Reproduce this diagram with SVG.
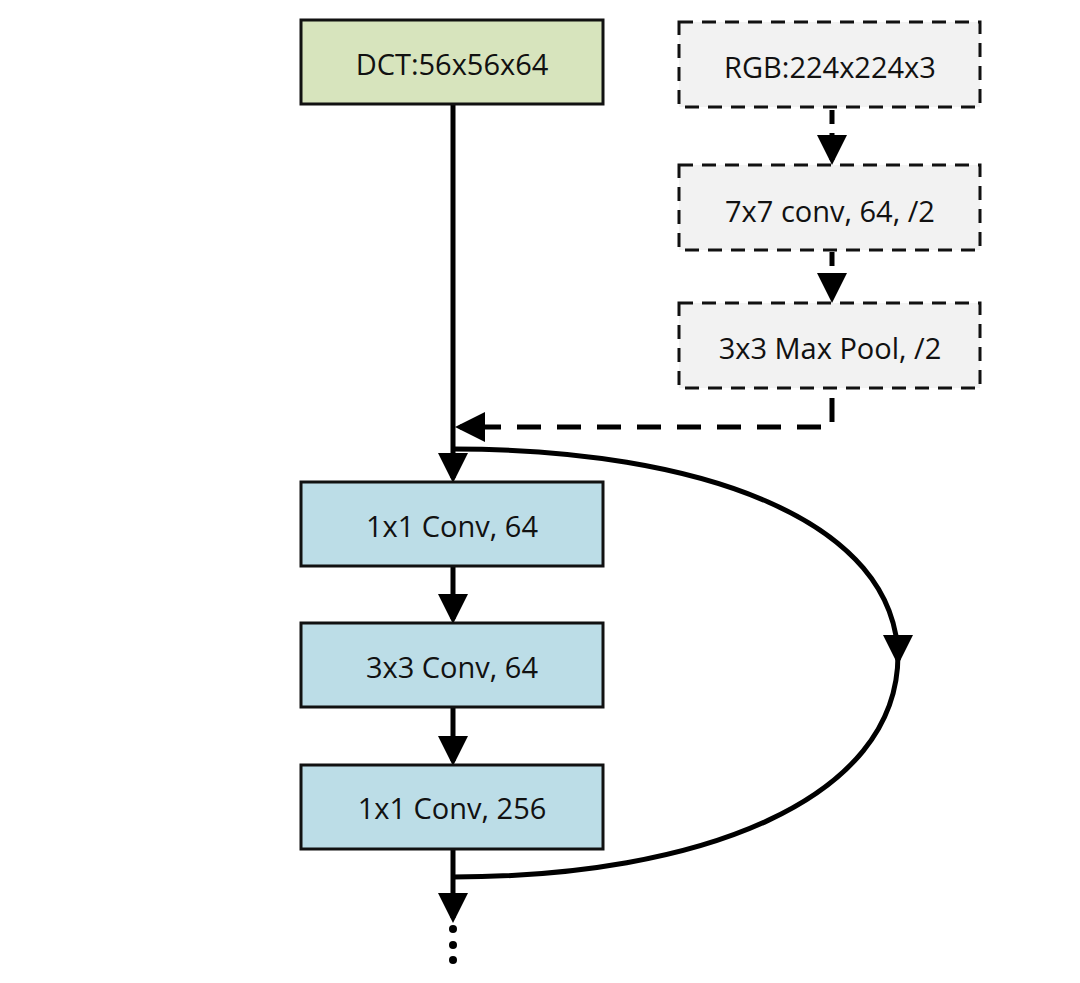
<svg xmlns="http://www.w3.org/2000/svg" width="1080" height="983" viewBox="0 0 1080 983">
<style>
text{font-family:"Open Sans","Liberation Sans",sans-serif;font-size:29px;fill:#111;text-anchor:middle;dominant-baseline:central}
.b{fill:#bcdde7;stroke:#111;stroke-width:3}
.g{fill:#f2f2f2;stroke:#111;stroke-width:3;stroke-dasharray:14 9}
.c{fill:none;stroke:#000;stroke-width:5}
</style>
<defs><marker id="a" markerWidth="6" markerHeight="6" refX="5" refY="3" orient="auto" markerUnits="strokeWidth"><path d="M0,0L6,3L0,6z" fill="#000"/></marker></defs>
<rect width="1080" height="983" fill="#fff"/>
<g id="connectors">
<line class="c" x1="453" y1="104" x2="453" y2="478" marker-end="url(#a)"/>
<line class="c" x1="453" y1="566" x2="453" y2="619" marker-end="url(#a)"/>
<line class="c" x1="453" y1="707" x2="453" y2="761" marker-end="url(#a)"/>
<line class="c" x1="453" y1="849" x2="453" y2="918" marker-end="url(#a)"/>
<path class="c" d="M832,110V160" stroke-dasharray="14 9" marker-end="url(#a)"/>
<path class="c" d="M832,252V298" stroke-dasharray="14 9" marker-end="url(#a)"/>
<path class="c" d="M832,398V427H460" stroke-dasharray="24 16" marker-end="url(#a)"/>
<path class="c" d="M453,449C700,449 898,520 898,660" marker-end="url(#a)"/>
<path class="c" d="M898,655C898,800 700,877 453,877"/>
<circle cx="453" cy="929" r="4"/><circle cx="453" cy="945" r="4"/><circle cx="453" cy="960" r="4"/>
</g>
<g id="dct"><rect x="301" y="20" width="302" height="84" fill="#d7e4bd" stroke="#111" stroke-width="3"/><text x="452" y="63">DCT:56x56x64</text></g>
<g id="rgb"><rect class="g" x="679" y="22" width="301" height="85"/><text x="830" y="66">RGB:224x224x3</text></g>
<g id="conv7"><rect class="g" x="679" y="165" width="301" height="85"/><text x="830" y="210">7x7 conv, 64, /2</text></g>
<g id="pool"><rect class="g" x="679" y="303" width="301" height="85"/><text x="830" y="347">3x3 Max Pool, /2</text></g>
<g id="c1"><rect class="b" x="301" y="482" width="302" height="84"/><text x="452" y="525">1x1 Conv, 64</text></g>
<g id="c2"><rect class="b" x="301" y="623" width="302" height="84"/><text x="452" y="666">3x3 Conv, 64</text></g>
<g id="c3"><rect class="b" x="301" y="765" width="302" height="84"/><text x="452" y="807">1x1 Conv, 256</text></g>
</svg>
